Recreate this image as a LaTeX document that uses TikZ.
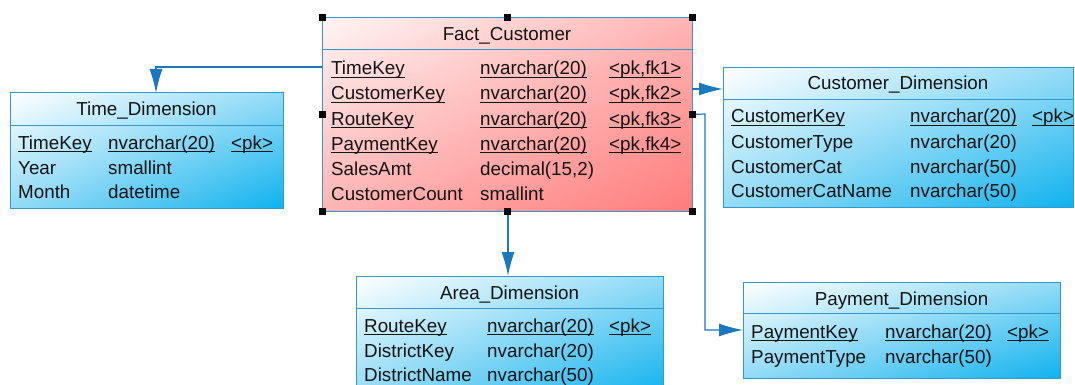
\documentclass[tikz,border=0pt]{standalone}
\usepackage{fontspec}
\setmainfont{Liberation Sans}
\usepackage{tikz}
\usetikzlibrary{arrows.meta,shadings}

\definecolor{tblborder}{HTML}{3399CC}
\definecolor{linkblue}{HTML}{1A78BE}
\definecolor{factlight}{HTML}{FFF4F4}
\definecolor{factmid}{HTML}{FFB4B4}
\definecolor{factdark}{HTML}{FF7C7C}
\definecolor{dimmid}{HTML}{93DBF6}
\definecolor{dimdark}{HTML}{10B2EE}
\definecolor{txt}{HTML}{141414}

\newcommand{\ulkey}[1]{\setbox0\hbox{#1}\rlap{\rule[-3pt]{\wd0}{1.2pt}}\box0}

\tikzset{
  tbl/.style={draw=tblborder, line width=1pt, rectangle, outer sep=0pt, inner sep=0pt},
  facttbl/.style={tbl, upper left=factlight, upper right=factmid, lower left=factmid, lower right=factdark},
  dimtbl/.style={tbl, upper left=white, upper right=dimmid, lower left=dimmid, lower right=dimdark},
  tblline/.style={draw=tblborder, line width=1pt},
  col/.style={anchor=base west, inner sep=0pt, text=txt},
  ttl/.style={anchor=base, inner sep=0pt, text=txt},
  fk/.style={draw=linkblue, line width=1.2pt, -{Latex[length=24pt,width=13pt]}},
  handle/.style={fill=black, minimum size=7pt, inner sep=0pt}
}

\begin{document}
\begin{tikzpicture}[x=1pt, y=-1pt, font=\fontsize{18.8}{22}\selectfont]
        \useasboundingbox (0,0) rectangle (1075,385);

        \node[facttbl, minimum width=370pt, minimum height=193pt] (fact) at (507,114.5) {};
        \node[dimtbl, minimum width=273pt, minimum height=115pt] (time) at (146.5,150.5) {};
        \node[dimtbl, minimum width=350pt, minimum height=139pt] (cust) at (898,137.5) {};
        \node[dimtbl, minimum width=307pt, minimum height=119pt] (area) at (509.5,335.5) {};
        \node[dimtbl, minimum width=317pt, minimum height=96pt] (pay) at (901.5,330) {};

        \draw[tblline] ([yshift=-32pt]fact.north west) -- ([yshift=-32pt]fact.north east);
        \draw[tblline] ([yshift=-32pt]time.north west) -- ([yshift=-32pt]time.north east);
        \draw[tblline] ([yshift=-32pt]cust.north west) -- ([yshift=-32pt]cust.north east);
        \draw[tblline] ([yshift=-32pt]area.north west) -- ([yshift=-32pt]area.north east);
        \draw[tblline] ([yshift=-31pt]pay.north west) -- ([yshift=-31pt]pay.north east);

        \node[ttl] (fact-t) at (507,41) {Fact\_Customer};
        \node[col] (fact-a1) at (331,75) {\ulkey{TimeKey}};
        \node[col] (fact-b1) at (480,75) {\ulkey{nvarchar(20)}};
        \node[col] (fact-c1) at (609,75) {\ulkey{<pk,fk1>}};
        \node[col] (fact-a2) at (331,100) {\ulkey{CustomerKey}};
        \node[col] (fact-b2) at (480,100) {\ulkey{nvarchar(20)}};
        \node[col] (fact-c2) at (609,100) {\ulkey{<pk,fk2>}};
        \node[col] (fact-a3) at (331,125) {\ulkey{RouteKey}};
        \node[col] (fact-b3) at (480,125) {\ulkey{nvarchar(20)}};
        \node[col] (fact-c3) at (609,125) {\ulkey{<pk,fk3>}};
        \node[col] (fact-a4) at (331,150) {\ulkey{PaymentKey}};
        \node[col] (fact-b4) at (480,150) {\ulkey{nvarchar(20)}};
        \node[col] (fact-c4) at (609,150) {\ulkey{<pk,fk4>}};
        \node[col] (fact-a5) at (331,175) {SalesAmt};
        \node[col] (fact-b5) at (480,175) {decimal(15,2)};
        \node[col] (fact-a6) at (331,200) {CustomerCount};
        \node[col] (fact-b6) at (480,200) {smallint};

        \node[ttl] (time-t) at (146.5,115) {Time\_Dimension};
        \node[col] (time-a1) at (18,149) {\ulkey{TimeKey}};
        \node[col] (time-b1) at (108,149) {\ulkey{nvarchar(20)}};
        \node[col] (time-c1) at (231,149) {\ulkey{<pk>}};
        \node[col] (time-a2) at (18,174) {Year};
        \node[col] (time-b2) at (108,174) {smallint};
        \node[col] (time-a3) at (18,198) {Month};
        \node[col] (time-b3) at (108,198) {datetime};

        \node[ttl] (cust-t) at (898,90) {Customer\_Dimension};
        \node[col] (cust-a1) at (731,123) {\ulkey{CustomerKey}};
        \node[col] (cust-b1) at (910,123) {\ulkey{nvarchar(20)}};
        \node[col] (cust-c1) at (1032,123) {\ulkey{<pk>}};
        \node[col] (cust-a2) at (731,148) {CustomerType};
        \node[col] (cust-b2) at (910,148) {nvarchar(20)};
        \node[col] (cust-a3) at (731,173) {CustomerCat};
        \node[col] (cust-b3) at (910,173) {nvarchar(50)};
        \node[col] (cust-a4) at (731,197) {CustomerCatName};
        \node[col] (cust-b4) at (910,197) {nvarchar(50)};

        \node[ttl] (area-t) at (509.5,299) {Area\_Dimension};
        \node[col] (area-a1) at (364,332) {\ulkey{RouteKey}};
        \node[col] (area-b1) at (487,332) {\ulkey{nvarchar(20)}};
        \node[col] (area-c1) at (609,332) {\ulkey{<pk>}};
        \node[col] (area-a2) at (364,357) {DistrictKey};
        \node[col] (area-b2) at (487,357) {nvarchar(20)};
        \node[col] (area-a3) at (364,381) {DistrictName};
        \node[col] (area-b3) at (487,381) {nvarchar(50)};

        \node[ttl] (pay-t) at (901.5,305) {Payment\_Dimension};
        \node[col] (pay-a1) at (751,338) {\ulkey{PaymentKey}};
        \node[col] (pay-b1) at (885,338) {\ulkey{nvarchar(20)}};
        \node[col] (pay-c1) at (1007,338) {\ulkey{<pk>}};
        \node[col] (pay-a2) at (751,363) {PaymentType};
        \node[col] (pay-b2) at (885,363) {nvarchar(50)};

        \coordinate (o-time) at (322,67);
        \coordinate (k-time) at (156,67);
        \coordinate (i-time) at (156,93);
        \coordinate (o-cust) at (692,89);
        \coordinate (i-cust) at (723,89);
        \coordinate (k-pay) at (705,114);
        \coordinate (i-pay) at (743,330);
        \coordinate (o-area) at (508,211);
        \coordinate (i-area) at (508,276);

        \draw[fk] (o-time) -- (k-time) -- (i-time);
        \draw[fk] (o-cust) -- (i-cust);
        \draw[fk] (fact.east) -- (k-pay) |- (i-pay);
        \draw[fk] (o-area) -- (i-area);

        \node[handle] (h1) at (fact.north west) {};
        \node[handle] (h2) at (fact.north) {};
        \node[handle] (h3) at (fact.north east) {};
        \node[handle] (h4) at (fact.west) {};
        \node[handle] (h5) at (fact.east) {};
        \node[handle] (h6) at (fact.south west) {};
        \node[handle] (h7) at (fact.south) {};
        \node[handle] (h8) at (fact.south east) {};
    \end{tikzpicture}
\end{document}
